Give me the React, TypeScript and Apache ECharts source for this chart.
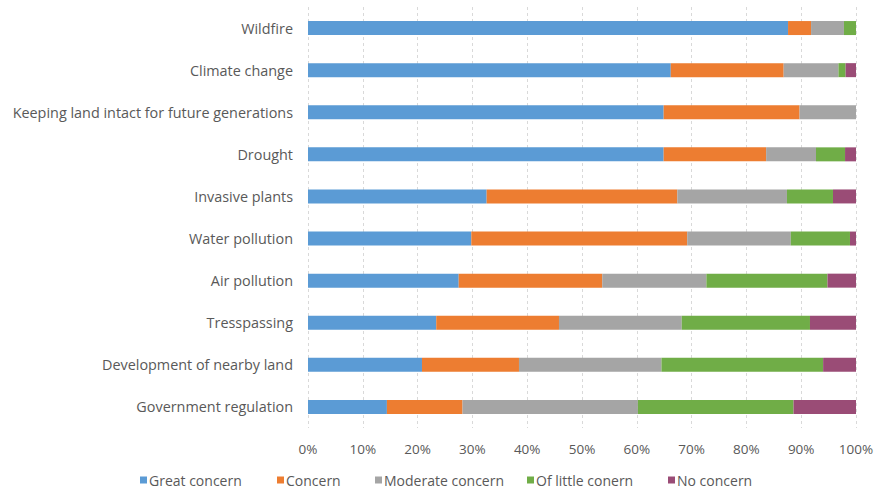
import React, { useEffect, useRef } from "react";
import * as echarts from "echarts";

const categories = [
  "Government regulation",
  "Development of nearby land",
  "Tresspassing",
  "Air pollution",
  "Water pollution",
  "Invasive plants",
  "Drought",
  "Keeping land intact for future generations",
  "Climate change",
  "Wildfire",
];

const seriesNames = ["Great concern", "Concern", "Moderate concern", "Of little conern", "No concern"];

// values bottom-to-top (same order as categories), in percent
const greatConcern = [14.4, 20.8, 23.4, 27.5, 29.8, 32.6, 64.9, 64.9, 66.2, 87.6];
const concern = [13.8, 17.7, 22.4, 26.2, 39.4, 34.8, 18.7, 24.8, 20.6, 4.2];
const moderateConcern = [32.0, 26.0, 22.4, 19.0, 18.9, 20.0, 9.1, 10.3, 10.0, 6.0];
const ofLittleConcern = [28.4, 29.5, 23.4, 22.1, 10.8, 8.4, 5.3, 0, 1.3, 2.2];
const noConcern = [11.4, 6.0, 8.4, 5.2, 1.1, 4.2, 2.0, 0, 1.9, 0];

const xTicks = [0, 10, 20, 30, 40, 50, 60, 70, 80, 90, 100];

const colors = ["#5B9BD5", "#ED7D31", "#A5A5A5", "#70AD47", "#9A4C76"];
const legendLefts = [140, 277, 375, 527, 668];

export default function App() {
  const ref = useRef<HTMLDivElement>(null);
  useEffect(() => {
    if (!ref.current) return;
    const chart = echarts.init(ref.current, null, { renderer: "svg" });
    const font = "Open Sans";
    const values = [greatConcern, concern, moderateConcern, ofLittleConcern, noConcern];
    chart.setOption({
      animation: false,
      color: colors,
      textStyle: { fontFamily: font },
      legend: seriesNames.map((n, i) => ({
        data: [n],
        left: legendLefts[i],
        top: 473,
        itemWidth: 7,
        itemHeight: 7,
        itemGap: 0,
        padding: 0,
        icon: "rect",
        textStyle: { color: "#595959", fontSize: 14, fontFamily: font, padding: [0, 0, 0, -3] },
      })),
      grid: { left: 308, right: 21, top: 7, bottom: 64, containLabel: false },
      xAxis: {
        type: "value",
        min: 0,
        max: 100,
        interval: 10,
        axisLine: { show: false },
        axisTick: { show: false },
        splitLine: { show: true, lineStyle: { color: "#D9D9D9", type: [3, 3], width: 1 } },
        axisLabel: {
          color: "#595959",
          fontSize: 13.5,
          fontFamily: font,
          margin: 14,
          formatter: (v: number) => (xTicks.includes(v) ? v + "%" : ""),
        },
      },
      yAxis: {
        type: "category",
        data: categories,
        axisLine: { show: false },
        axisTick: { show: false },
        axisLabel: { color: "#595959", fontSize: 14.4, fontFamily: font, margin: 15 },
      },
      series: seriesNames.map((n, i) => ({
        name: n,
        type: "bar",
        stack: "total",
        barWidth: 14,
        data: values[i],
        itemStyle: { color: colors[i] },
      })),
    });
    return () => chart.dispose();
  }, []);
  return <div ref={ref} style={{ width: 877, height: 492, position: "absolute", left: 0, top: 0 }} />;
}
